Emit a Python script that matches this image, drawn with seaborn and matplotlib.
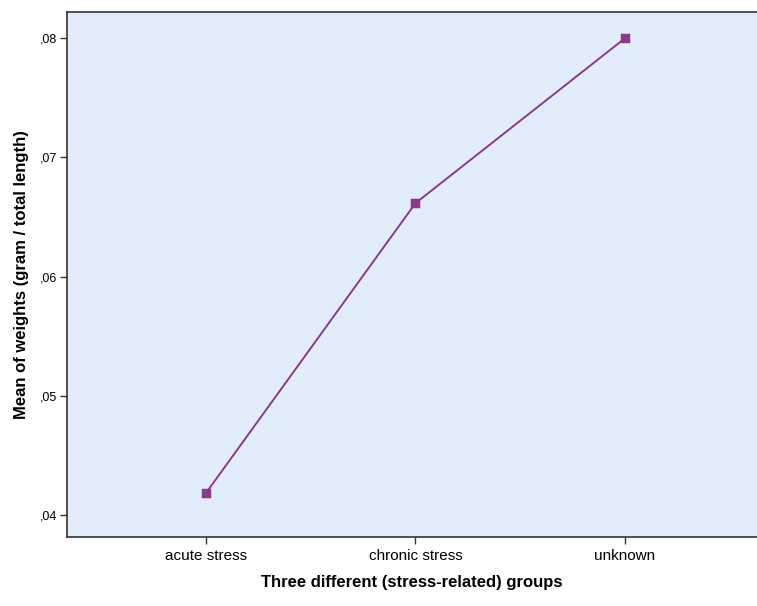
import matplotlib
matplotlib.use('Agg')
import matplotlib.pyplot as plt
import seaborn as sns
import pandas as pd
from matplotlib.ticker import FuncFormatter

# Dados
grupos = ['acute stress', 'chronic stress', 'unknown']
medias = [0.04184, 0.06616, 0.0800]
y_ticks = [0.04, 0.05, 0.06, 0.07, 0.08]

df = pd.DataFrame({'grupo': grupos, 'media': medias})

sns.set_style('white')
plt.rcParams['font.family'] = ['Liberation Sans', 'DejaVu Sans']
plt.rcParams['text.color'] = 'black'
plt.rcParams['axes.labelcolor'] = 'black'
plt.rcParams['xtick.color'] = 'black'
plt.rcParams['ytick.color'] = 'black'

fig = plt.figure(figsize=(7.57, 6.06), dpi=100)
ax = fig.add_axes([67/757, 1 - 537/606, 1 - 67/757, (537 - 12)/606])
ax.set_facecolor('#E1EDFB')

sns.pointplot(data=df, x='grupo', y='media', color='#8B3A8B', markers='s',
              markersize=5.5, linewidth=1.4, errorbar=None, ax=ax)

ax.set_xlim(-0.663, 2.63)
ax.set_ylim(0.03816, 0.0822)
ax.set_yticks(y_ticks)
ax.yaxis.set_major_formatter(FuncFormatter(lambda v, p: ('%.2f' % v).lstrip('0').replace('.', ',')))

for s in ax.spines.values():
    s.set_color('#333333')
    s.set_linewidth(1.2)
ax.spines['right'].set_visible(False)
ax.tick_params(axis='both', direction='out', length=5, width=1, color='#333333',
               left=True, bottom=True)
ax.tick_params(axis='y', labelsize=9, pad=2)
ax.tick_params(axis='x', labelsize=11, pad=4)

ax.set_xlabel('Three different (stress-related) groups', fontsize=12, fontweight='bold', labelpad=8)
ax.set_ylabel('Mean of weights (gram / total length)', fontsize=12, fontweight='bold', labelpad=8)

fig.savefig('out.png', dpi=100)
